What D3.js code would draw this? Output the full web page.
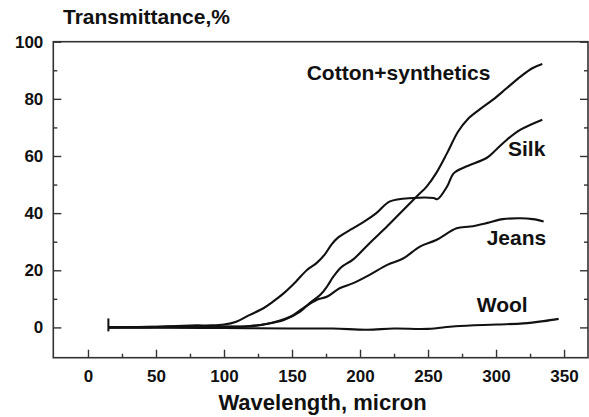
<!DOCTYPE html>
<html>
<head>
<meta charset="utf-8">
<script src="https://cdn.jsdelivr.net/npm/d3@7"></script>
<style>
  body { margin: 0; background: #fff; }
  text { font-family: "Liberation Sans", Arial, sans-serif; font-weight: bold; fill: #111; }
</style>
</head>
<body>
<div class="container"></div>
<script>
var W = 589, H = 417;
var MARGIN = {top: 41.7, right: 1, bottom: 59.3, left: 53.3};

// wavelength (micron) / transmittance (%)
var silkX   = [15, 30, 45, 60, 70, 80, 90, 100, 109, 119, 129, 136, 144, 153, 161, 168, 174, 179, 184, 193, 203, 212, 222, 239, 254, 257, 264, 269, 278, 293, 300, 308, 318, 334];
var silkY   = [0, 0.1, 0.2, 0.4, 0.6, 0.7, 0.7, 1.0, 2.0, 4.4, 6.7, 9.0, 12.0, 16.1, 20.1, 22.5, 25.5, 29.0, 31.5, 34.2, 37.0, 40.0, 44.1, 45.3, 45.3, 44.9, 49.3, 54.0, 56.3, 59.3, 62.2, 65.7, 69.2, 72.7];

var cottonX = [15, 40, 60, 80, 100, 119, 131, 144, 156, 163, 171, 176, 180, 186, 195, 207, 220, 232, 242, 249, 256, 264, 272, 279, 288, 298, 308, 318, 327, 334];
var cottonY = [0, 0.1, 0.3, 0.4, 0.3, 0.5, 1.2, 2.6, 5.5, 8.5, 11.5, 14.5, 17.5, 21.0, 23.8, 29.5, 35.4, 41.2, 46.0, 49.3, 54.0, 61.0, 68.5, 72.8, 76.3, 79.8, 83.8, 87.8, 90.8, 92.2];

var jeansX  = [15, 40, 60, 80, 100, 120, 136, 149, 158, 168, 176, 185, 195, 207, 220, 232, 244, 256, 271, 281, 293, 305, 318, 327, 335];
var jeansY  = [0, 0, 0.2, 0.3, 0.2, 0.4, 1.7, 3.8, 6.7, 9.6, 10.8, 13.7, 15.5, 18.4, 21.9, 24.2, 28.3, 30.6, 34.7, 35.3, 36.5, 37.9, 38.2, 37.9, 37.1];

var woolX   = [15, 50, 100, 150, 180, 205, 225, 250, 270, 300, 320, 335, 346];
var woolY   = [0, -0.1, -0.2, -0.4, -0.4, -0.8, -0.4, -0.5, 0.4, 1.0, 1.4, 2.2, 3.0];

var seriesNames = ["Cotton+synthetics", "Silk", "Jeans", "Wool"];
var xTicks = [0, 50, 100, 150, 200, 250, 300, 350];
var xMinor = [25, 75, 125, 175, 225, 275, 325];
var yTicks = [0, 20, 40, 60, 80, 100];
var yMinor = [10, 30, 50, 70, 90];

var zip = function(xs, ys) {
	return xs.map(function(x, i) { return [x, ys[i]]; });
};

var series = [
	{name: seriesNames[0], values: zip(cottonX, cottonY), label: [306.7, 80]},
	{name: seriesNames[1], values: zip(silkX, silkY), label: [508, 156]},
	{name: seriesNames[2], values: zip(jeansX, jeansY), label: [486.7, 245]},
	{name: seriesNames[3], values: zip(woolX, woolY), label: [476.7, 311.7]}
];

var svg = d3.select(".container").append("svg")
	.attr("width", W)
	.attr("height", H);

var x = d3.scaleLinear().domain([-25.5, 367.6]).range([MARGIN.left, W - MARGIN.right]);
var y = d3.scaleLinear().domain([-10.6, 100]).range([H - MARGIN.bottom, MARGIN.top]);

// frame
svg.append("rect")
	.attr("x", MARGIN.left)
	.attr("y", MARGIN.top)
	.attr("width", W - MARGIN.right - MARGIN.left)
	.attr("height", H - MARGIN.bottom - MARGIN.top)
	.attr("fill", "none")
	.attr("stroke", "#333")
	.attr("stroke-width", 1.6);

var styleAxis = function(g) {
	g.select(".domain").remove();
	g.selectAll("line").attr("stroke", "#333").attr("stroke-width", 1.4);
	g.selectAll("text").style("font-size", "17px");
};

svg.append("g")
	.attr("transform", "translate(0," + (H - MARGIN.bottom) + ")")
	.call(d3.axisBottom(x).tickValues(xTicks).tickSize(-8).tickSizeOuter(0).tickPadding(12))
	.call(styleAxis);
svg.append("g")
	.attr("transform", "translate(0," + (H - MARGIN.bottom) + ")")
	.call(d3.axisBottom(x).tickValues(xMinor).tickSize(-4).tickSizeOuter(0).tickFormat(""))
	.call(styleAxis);

svg.append("g")
	.attr("transform", "translate(" + MARGIN.left + ",0)")
	.call(d3.axisLeft(y).tickValues(yTicks).tickSize(-8).tickSizeOuter(0).tickPadding(10))
	.call(styleAxis);
svg.append("g")
	.attr("transform", "translate(" + MARGIN.left + ",0)")
	.call(d3.axisLeft(y).tickValues(yMinor).tickSize(-4).tickSizeOuter(0).tickFormat(""))
	.call(styleAxis);

svg.append("g")
	.attr("transform", "translate(" + (W - MARGIN.right) + ",0)")
	.call(d3.axisRight(y).tickValues(yTicks).tickSize(-8).tickSizeOuter(0).tickFormat(""))
	.call(styleAxis);
svg.append("g")
	.attr("transform", "translate(" + (W - MARGIN.right) + ",0)")
	.call(d3.axisRight(y).tickValues(yMinor).tickSize(-4).tickSizeOuter(0).tickFormat(""))
	.call(styleAxis);

// curves
var line = d3.line()
	.x(function(d) { return x(d[0]); })
	.y(function(d) { return y(d[1]); })
	.curve(d3.curveCatmullRom);

svg.selectAll(".curve")
	.data(series)
	.enter().append("path")
	.attr("class", "curve")
	.attr("d", function(d) { return line(d.values); })
	.attr("fill", "none")
	.attr("stroke", "#111")
	.attr("stroke-width", 2.1);

// start marker
svg.append("line")
	.attr("x1", x(silkX[0])).attr("x2", x(silkX[0]))
	.attr("y1", y(0) - 9).attr("y2", y(0) + 4)
	.attr("stroke", "#111")
	.attr("stroke-width", 2);

svg.selectAll(".lbl")
	.data(series)
	.enter().append("text")
	.attr("class", "lbl")
	.attr("x", function(d) { return d.label[0]; })
	.attr("y", function(d) { return d.label[1]; })
	.style("font-size", "21px")
	.text(function(d) { return d.name; });

svg.append("text")
	.attr("x", 63)
	.attr("y", 24)
	.style("font-size", "21px")
	.text("Transmittance,%");

svg.append("text")
	.attr("x", 322.5)
	.attr("y", 410)
	.attr("text-anchor", "middle")
	.style("font-size", "22px")
	.text("Wavelength, micron");
</script>
</body>
</html>
